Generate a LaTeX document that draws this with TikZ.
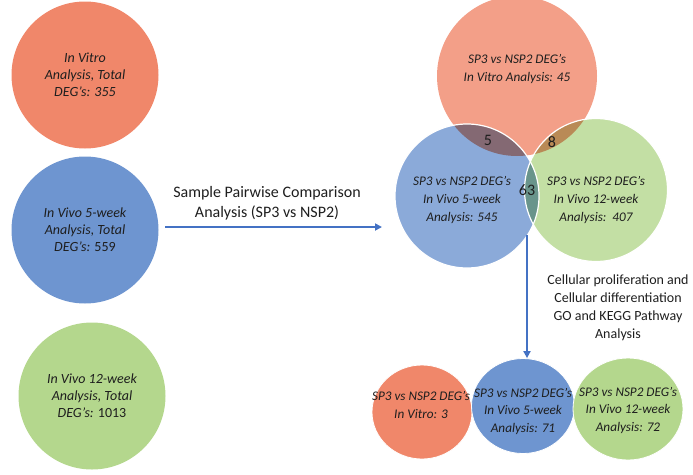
\documentclass[tikz,border=0pt]{standalone}
\usepackage{fontspec}
\setmainfont{Carlito}
\usetikzlibrary{shapes.geometric,arrows.meta}
\definecolor{vitrocol}{HTML}{F0876A}
\definecolor{fivecol}{HTML}{6E95D0}
\definecolor{twelvecol}{HTML}{B4D78D}
\definecolor{arrowc}{HTML}{4472C4}
\definecolor{ink}{HTML}{1E1E1E}

\begin{document}
\begin{tikzpicture}[x=1pt,y=-1pt,
  bubble/.style={circle,inner sep=0pt,align=center,text=ink,font=\itshape\fontsize{14}{17}\selectfont},
  setc/.style={circle,inner sep=0pt,fill opacity=0.8},
  rim/.style={draw=white,line width=1.2pt},
  settext/.style={align=center,text=ink,font=\itshape\fontsize{13.2}{18}\selectfont},
  count/.style={text=ink,font=\fontsize{16}{18}\selectfont},
  egg/.style={ellipse,inner sep=0pt,draw=white,line width=0.8pt},
  eggtext/.style={align=center,text=ink,inner sep=0pt,font=\itshape\fontsize{13.2}{17.5}\selectfont},
  flow/.style={draw=arrowc,line width=2pt,-{Triangle[length=7pt,width=7pt]}},
  plain/.style={align=center,text=ink}]
 \useasboundingbox (0,0) rectangle (693,474);
 % total DEG's per analysis
 \node[bubble,fill=vitrocol,minimum size=147pt] (vitro) at (85,75) {In Vitro\\Analysis, Total\\DEG’s: 355};
 \node[bubble,fill=fivecol,minimum size=147pt] (vivofive) at (85,230) {In Vivo 5-week\\Analysis, Total\\DEG’s: {\upshape 559}};
 \node[bubble,fill=twelvecol,minimum size=147pt] (vivotwelve) at (92,396) {In Vivo 12-week\\Analysis, Total\\DEG’s: {\upshape 1013}};
 % pairwise comparison
 \coordinate (pairstart) at (165,227);
 \coordinate (vennin) at (382,227);
 \node[plain,font=\fontsize{16}{20}\selectfont] (pairwise) at (267,203) {Sample Pairwise Comparison\\Analysis (SP3 vs NSP2)};
 \draw[flow] (pairstart) -- (vennin);
 % venn
 \node[setc,fill=vitrocol,minimum size=160pt] (vitroset) at (517,76) {};
 \node[setc,fill=twelvecol,minimum size=143pt,blend mode=multiply] (twelveset) at (596,190) {};
 \node[setc,fill=fivecol,minimum size=144pt,blend mode=multiply] (fiveset) at (467,196) {};
 \draw[rim] (twelveset.center) circle[radius=71.5pt];
 \draw[rim] (fiveset.center) circle[radius=72pt];
 \node[settext] (vitrotext) at (517,69) {SP3 vs NSP2 DEG’s\\In Vitro Analysis: 45};
 \node[settext] (fivetext) at (462,200) {SP3 vs NSP2 DEG’s\\In Vivo 5-week\\Analysis: 545};
 \node[settext] (twelvetext) at (596,200) {SP3 vs NSP2 DEG’s\\In Vivo 12-week\\Analysis:\ \ 407};
 \node[count] (five) at (488,140) {5};
 \node[count] (eight) at (552,142) {8};
 \node[count] (sixtythree) at (527,190) {63};
 % GO / KEGG
 \node[egg,fill=vitrocol,minimum width=100pt,minimum height=94pt] (vitrogo) at (422,412) {};
 \node[egg,fill=fivecol,minimum width=103pt,minimum height=95pt] (fivego) at (523,406) {};
 \node[egg,fill=twelvecol,minimum width=110pt,minimum height=102pt] (twelvego) at (628,409) {};
 \node[eggtext] (vitrogotext) at (421,405) {SP3 vs NSP2 DEG’s\\In Vitro: 3};
 \node[eggtext] (fivegotext) at (523,411) {SP3 vs NSP2 DEG’s\\In Vivo 5-week\\Analysis: 71};
 \node[eggtext] (twelvegotext) at (628,410) {SP3 vs NSP2 DEG’s\\In Vivo 12-week\\Analysis: 72};
 \node[plain,font=\fontsize{14}{18}\selectfont] (golabel) at (618,308) {Cellular proliferation and\\Cellular differentiation\\GO and KEGG Pathway\\Analysis};
 \coordinate (gostart) at (527,235);
 \draw[flow] (gostart) -- (gostart |- fivego.north);
\end{tikzpicture}
\end{document}
